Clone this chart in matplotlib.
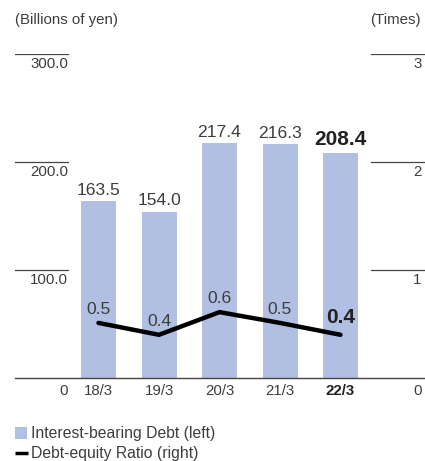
import matplotlib
matplotlib.use("Agg")
import matplotlib.pyplot as plt
from matplotlib.patches import Rectangle
from matplotlib.lines import Line2D

plt.rcParams['font.family'] = ['Liberation Sans', 'DejaVu Sans']

categories = ["18/3", "19/3", "20/3", "21/3", "22/3"]
debt = [163.5, 154.0, 217.4, 216.3, 208.4]
ratio = [0.51, 0.40, 0.61, 0.51, 0.40]
ratio_labels = ["0.5", "0.4", "0.6", "0.5", "0.4"]
left_ticks = [100.0, 200.0, 300.0]
left_tick_labels = ["100.0", "200.0", "300.0"]
right_ticks = [1, 2, 3]
right_tick_labels = ["1", "2", "3"]

W, H = 425, 461
fig = plt.figure(figsize=(W / 100, H / 100), dpi=100)

TXT = "#3d3d3d"
GRID = "#4a4440"
BAR = "#b0bfe2"
TICK_FS = 10.8
VAL_FS = 12.6
BOLD_FS = 15

ax_l, ax_r = 15, 425
ax_b, ax_t = 378, 54
ax = fig.add_axes([ax_l / W, 1 - ax_b / H, (ax_r - ax_l) / W, (ax_b - ax_t) / H])
ax.set_ylim(0, 300)
spacing = 60.5
x0 = -(98.5 - ax_l) / spacing
ax.set_xlim(x0, x0 + (ax_r - ax_l) / spacing)
ax.axis("off")

ax2 = ax.twinx()
ax2.set_ylim(0, 3)
ax2.axis("off")

xs = list(range(len(categories)))
ax.bar(xs, debt, width=35 / spacing, color=BAR, zorder=1)

for x, v, c in zip(xs, debt, categories):
    bold = (c == "22/3")
    ax.annotate(f"{v:.1f}", (x, v), xytext=(0, 2.5), textcoords="offset points",
                ha="center", va="bottom", fontsize=BOLD_FS if bold else VAL_FS,
                fontweight="bold" if bold else "normal", color="#222222" if bold else TXT)

# Gridline segments
lfrac = (68 - ax_l) / (ax_r - ax_l)
rfrac = (371 - ax_l) / (ax_r - ax_l)
for t, lab in zip(left_ticks, left_tick_labels):
    ax.axhline(t, xmin=0, xmax=lfrac, color=GRID, lw=0.9)
    ax.annotate(lab, (lfrac, t), xycoords=("axes fraction", "data"), xytext=(0, -2.5),
                textcoords="offset points", ha="right", va="top", fontsize=TICK_FS, color=TXT)
for t, lab in zip(right_ticks, right_tick_labels):
    ax2.axhline(t, xmin=rfrac, xmax=1, color=GRID, lw=0.9)
    ax2.annotate(lab, (1, t), xycoords=("axes fraction", "data"), xytext=(-2.5, -2.5),
                 textcoords="offset points", ha="right", va="top", fontsize=TICK_FS, color=TXT)

ax.axhline(0, color=GRID, lw=1.0, zorder=3, clip_on=False)

# Bottom labels
ax.annotate("0", (lfrac, 0), xycoords=("axes fraction", "data"), xytext=(0, -9.5),
            textcoords="offset points", ha="right", va="center", fontsize=TICK_FS, color=TXT)
ax.annotate("0", (1, 0), xycoords=("axes fraction", "data"), xytext=(-2.5, -9.5),
            textcoords="offset points", ha="right", va="center", fontsize=TICK_FS, color=TXT)
for x, c in zip(xs, categories):
    bold = (c == "22/3")
    ax.annotate(c, (x, 0), xytext=(0, -9.5), textcoords="offset points", ha="center",
                va="center", fontsize=TICK_FS, fontweight="bold" if bold else "normal",
                color="#222222" if bold else TXT)

# Ratio line
ax2.plot(xs, ratio, color="black", lw=3.2, solid_capstyle="round", solid_joinstyle="miter", zorder=4)
for x, v, lab, c in zip(xs, ratio, ratio_labels, categories):
    bold = (c == "22/3")
    ax2.annotate(lab, (x, v), xytext=(0, 9.5 if not bold else 12.5), textcoords="offset points",
                 ha="center", va="center", fontsize=BOLD_FS if bold else VAL_FS,
                 fontweight="bold" if bold else "normal",
                 color="#222222" if bold else TXT)

# Axis titles
fig.text(15 / W, 1 - 20 / H, "(Billions of yen)", ha="left", va="center", fontsize=TICK_FS, color=TXT)
fig.text(421 / W, 1 - 20 / H, "(Times)", ha="right", va="center", fontsize=TICK_FS, color=TXT)

# Legend
fig.patches.append(Rectangle((15 / W, 1 - 439 / H), 12 / W, 12 / H, transform=fig.transFigure,
                             facecolor=BAR, edgecolor="none"))
fig.text(31.5 / W, 1 - 433 / H, "Interest-bearing Debt (left)", ha="left", va="center",
         fontsize=11.3, color=TXT)
fig.lines.append(Line2D([15 / W, 27.5 / W], [1 - 453 / H, 1 - 453 / H], transform=fig.transFigure,
                        color="black", lw=2.5, solid_capstyle="butt"))
fig.text(31.5 / W, 1 - 453 / H, "Debt-equity Ratio (right)", ha="left", va="center",
         fontsize=11.3, color=TXT)

fig.savefig("out.png", dpi=100)
